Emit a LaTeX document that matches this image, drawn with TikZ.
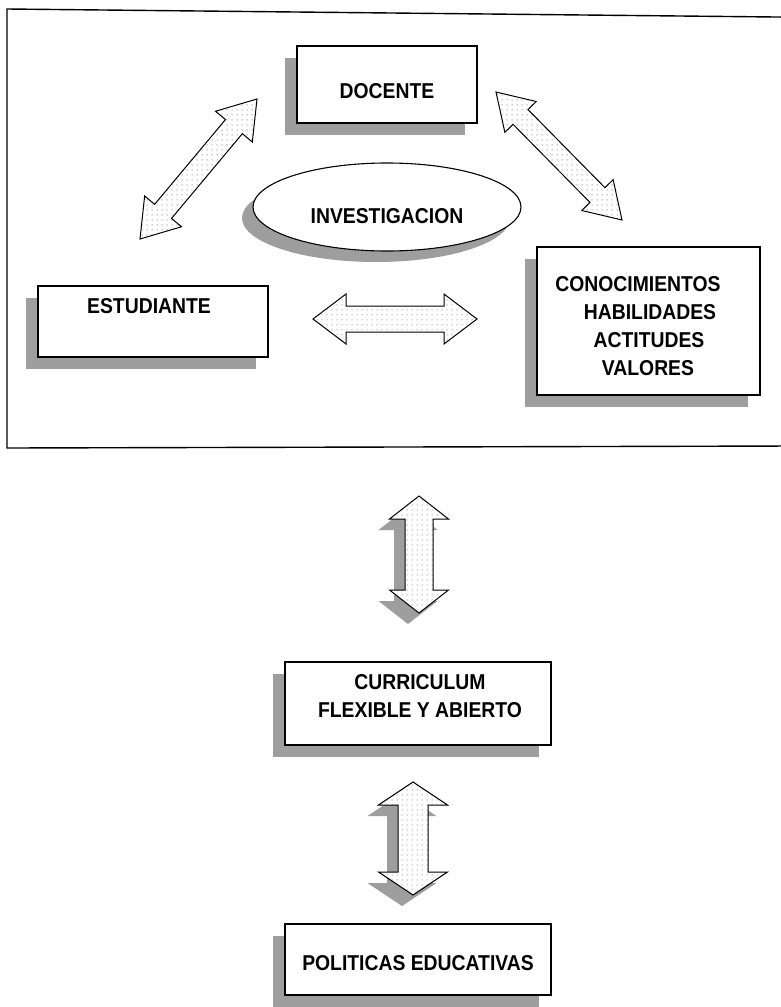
\documentclass[tikz,border=0pt]{standalone}
\usepackage{fontspec}
\setmainfont{Liberation Sans}
\newfontfamily\lblfont[FakeStretch=0.9]{Liberation Sans}
\usetikzlibrary{calc,shadows,patterns,shapes.geometric}
\pgfdeclarepatternformonly{sdots}{\pgfpointorigin}{\pgfpoint{5pt}{5pt}}{\pgfpoint{5pt}{5pt}}{\pgfpathcircle{\pgfpoint{2.5pt}{2.5pt}}{0.6pt}\pgfusepath{fill}}
\tikzset{
  shad/.style={general shadow={fill=black!38, shadow xshift=-12pt, shadow yshift=-12pt}},
  box/.style={draw, line width=1.1pt, fill=white, shad, rectangle, inner sep=0pt},
  lbl/.style={font=\lblfont\fontsize{21.5}{24}\selectfont\bfseries, inner sep=0pt},
  blockarrow/.style={draw, line width=1pt, line join=miter, preaction={fill=white}, pattern=sdots, pattern color=black!65},
  arrshadow/.style={fill=black!38},
  frame/.style={line width=1.4pt},
}
\newcommand\dblarrowpath[5]{(#1) -- ($(#1)!#3!(#2)!#4!90:(#2)$) -- ($(#1)!#3!(#2)!#5!90:(#2)$) -- ($(#2)!#3!(#1)!#5!-90:(#1)$) -- ($(#2)!#3!(#1)!#4!-90:(#1)$) -- (#2) -- ($(#2)!#3!(#1)!#4!90:(#1)$) -- ($(#2)!#3!(#1)!#5!90:(#1)$) -- ($(#1)!#3!(#2)!#5!-90:(#2)$) -- ($(#1)!#3!(#2)!#4!-90:(#2)$) -- cycle}
\newcommand\dblarrow[5]{\draw[blockarrow] \dblarrowpath{#1}{#2}{#3}{#4}{#5};}
\newcommand\dblarrowshadow[5]{\begin{scope}[transform canvas={shift={(-11pt,-11pt)}}]\fill[arrshadow] \dblarrowpath{#1}{#2}{#3}{#4}{#5};\end{scope}}
\begin{document}
\begin{tikzpicture}[x=1pt,y=-1pt]
\useasboundingbox (0,0) rectangle (781,1007);
\fill[white] (0,0) rectangle (781,1007);
\clip (0,0) rectangle (781,1007);

% frame
\coordinate (ftr) at (795,17.2);
\coordinate (ftl) at (7,9);
\coordinate (fbl) at (7,448);
\coordinate (fbr) at (795,446);
\draw[frame] (ftr) -- (ftl) -- (fbl) -- (fbr);

% boxes
\node[box, minimum width=180pt, minimum height=77pt] (doc) at (387,84.5) {};
\node[lbl] (doct) at (387,91) {DOCENTE};

\node[draw, ellipse, line width=1.1pt, fill=white, minimum width=268pt, minimum height=88pt, inner sep=0pt,
  general shadow={fill=black!38, shadow xshift=-11pt, shadow yshift=-11pt}] (inv) at (387,207) {};
\node[lbl] (invt) at (387,216) {INVESTIGACION};

\node[box, minimum width=230pt, minimum height=71pt] (est) at (153,321.5) {};
\node[lbl] (estt) at (149,306) {ESTUDIANTE};

\node[box, minimum width=223pt, minimum height=148pt] (con) at (648.5,321) {};
\node[lbl] (con1) at (638,284) {CONOCIMIENTOS};
\node[lbl] (con2) at (650,312) {HABILIDADES};
\node[lbl] (con3) at (649,340) {ACTITUDES};
\node[lbl] (con4) at (648,368) {VALORES};

\node[box, minimum width=266pt, minimum height=83pt] (cur) at (418,703.5) {};
\node[lbl] (cur1) at (420,682) {CURRICULUM};
\node[lbl] (cur2) at (420,710) {FLEXIBLE Y ABIERTO};

\node[box, minimum width=266pt, minimum height=71pt] (pol) at (418,959.5) {};
\node[lbl] (polt) at (418,963) {POLITICAS EDUCATIVAS};

% arrows
\coordinate (l1) at (140,239); \coordinate (l2) at (257,99);
\coordinate (r1) at (496,92);  \coordinate (r2) at (622,220);
\coordinate (h1) at (313,319); \coordinate (h2) at (477,319);
\coordinate (v1) at (419,496); \coordinate (v2) at (419,613);
\coordinate (w1) at (413,782); \coordinate (w2) at (413,895);

\dblarrow{l1}{l2}{36pt}{24pt}{11pt}
\dblarrow{r1}{r2}{35pt}{22pt}{10.5pt}
\dblarrow{h1}{h2}{33pt}{25pt}{13pt}

\dblarrowshadow{v1}{v2}{23pt}{29.5pt}{14pt}
\dblarrow{v1}{v2}{23pt}{29.5pt}{14pt}
\dblarrowshadow{w1}{w2}{23pt}{34.5pt}{15pt}
\dblarrow{w1}{w2}{23pt}{34.5pt}{15pt}
\end{tikzpicture}
\end{document}
